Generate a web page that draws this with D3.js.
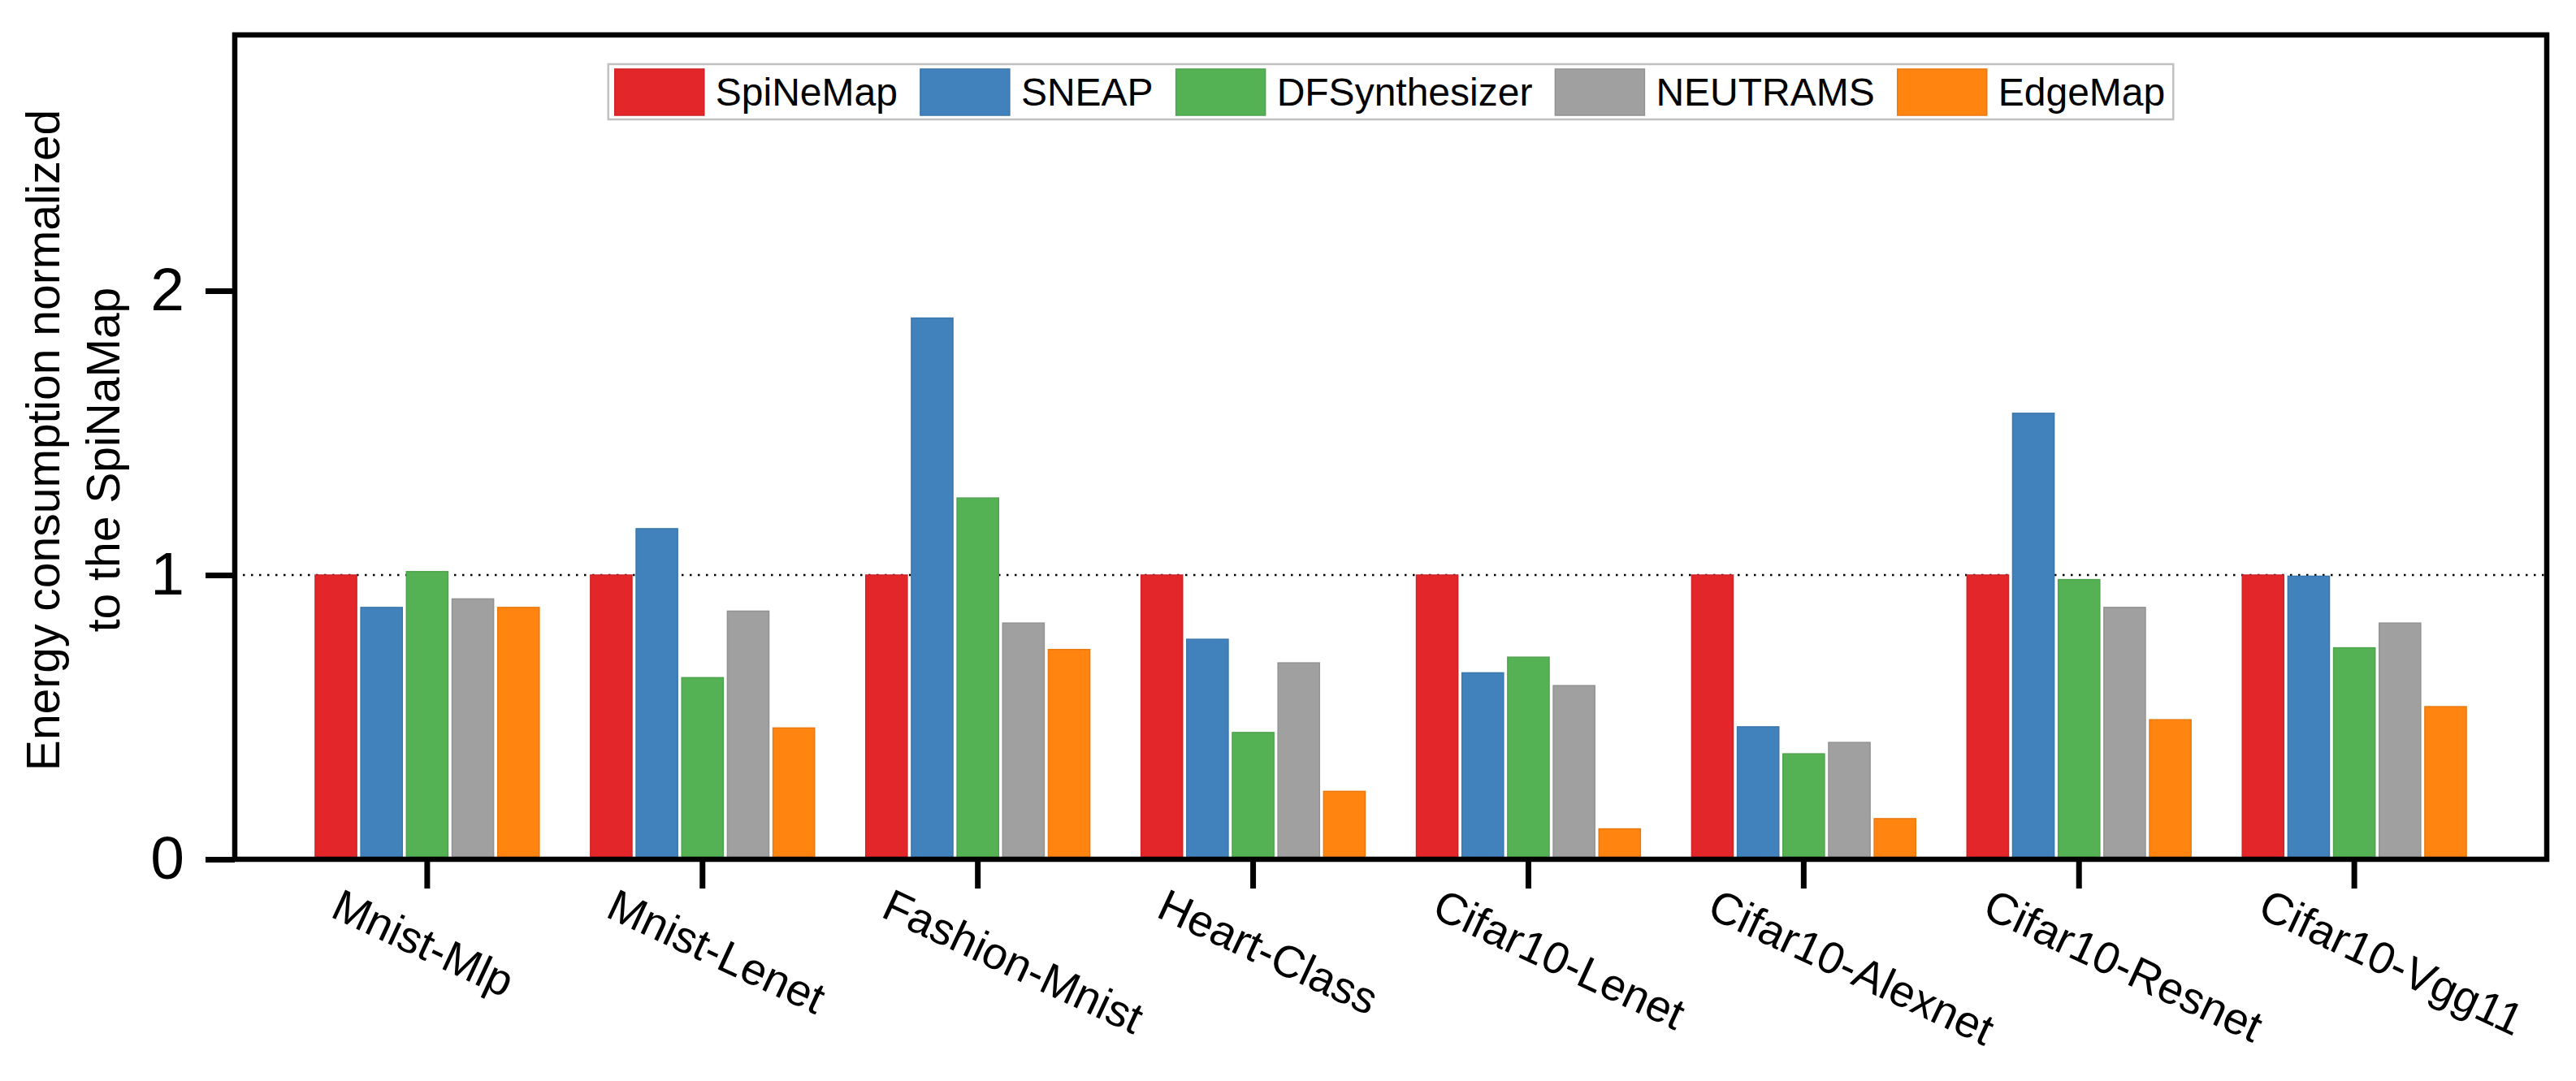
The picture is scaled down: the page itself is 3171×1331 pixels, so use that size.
<!DOCTYPE html>
<html lang="en">
<head>
  <meta charset="UTF-8">
  <title>Energy consumption normalized to SpiNeMap</title>
  <script src="https://d3js.org/d3.v7.min.js"></script>
  <style>
    body { margin: 0; background: #fff; }
    svg { display: block; font-family: 'Liberation Sans', Arial, sans-serif; }
  </style>
</head>
<body>
  <svg id="chart" width="3171" height="1331"></svg>

  <script>
    const apps = ["Mnist-Mlp", "Mnist-Lenet", "Fashion-Mnist", "Heart-Class", "Cifar10-Lenet", "Cifar10-Alexnet", "Cifar10-Resnet", "Cifar10-Vgg11"];
    const methods = ["SpiNeMap", "SNEAP", "DFSynthesizer", "NEUTRAMS", "EdgeMap"];
    const colors = ["#e3262a", "#4182bc", "#55b254", "#a0a0a0", "#ff8410"];

    // one array per method, in the order of apps
    const spinemap     = [1.00, 1.00, 1.00, 1.00, 1.00, 1.00, 1.00, 1.00];
    const sneap        = [0.886, 1.163, 1.904, 0.774, 0.656, 0.466, 1.569, 0.996];
    const dfsynth      = [1.012, 0.639, 1.271, 0.446, 0.711, 0.371, 0.984, 0.744];
    const neutrams     = [0.916, 0.873, 0.831, 0.691, 0.611, 0.411, 0.886, 0.831];
    const edgemap      = [0.886, 0.462, 0.738, 0.239, 0.107, 0.143, 0.491, 0.537];
    const series = [spinemap, sneap, dfsynth, neutrams, edgemap];

    const yTicks = [0, 1, 2];
    const yMax = 2.9;

    const svg = d3.select("#chart");
    const mLeft = 289, mRight = 3135, mTop = 43, mBottom = 1058;

    const x0 = d3.scaleBand().domain(apps).range([mLeft, mRight])
        .paddingInner(0.186).paddingOuter(0.292);
    const x1 = d3.scaleBand().domain(methods).range([0, x0.bandwidth()])
        .paddingInner(0.09);
    const y = d3.scaleLinear().domain([0, yMax]).range([mBottom, mTop]);

    svg.append("rect").attr("width", 3171).attr("height", 1331).attr("fill", "#fff");

    // reference line at 1
    svg.append("line")
        .attr("x1", mLeft).attr("x2", mRight)
        .attr("y1", y(1)).attr("y2", y(1))
        .attr("stroke", "#000").attr("stroke-width", 2.5)
        .attr("stroke-dasharray", "2.5 7.5");

    // bars
    const groups = svg.append("g").selectAll("g")
        .data(apps).enter().append("g")
        .attr("transform", d => `translate(${x0(d)},0)`);

    groups.selectAll("rect")
        .data((d, i) => methods.map((m, j) => ({ m, j, v: series[j][i] })))
        .enter().append("rect")
        .attr("x", d => x1(d.m))
        .attr("width", x1.bandwidth())
        .attr("y", d => y(d.v))
        .attr("height", d => y(0) - y(d.v))
        .attr("fill", d => colors[d.j])
        .attr("stroke", d => d3.color(colors[d.j]).darker(0.25))
        .attr("stroke-width", 1.5);

    // frame
    svg.append("rect")
        .attr("x", mLeft).attr("y", mTop)
        .attr("width", mRight - mLeft).attr("height", mBottom - mTop)
        .attr("fill", "none").attr("stroke", "#000").attr("stroke-width", 6.5);

    // y axis
    const yAxis = svg.append("g").attr("transform", `translate(${mLeft},0)`)
        .call(d3.axisLeft(y).tickValues(yTicks).tickFormat(d3.format("d")).tickSize(36).tickPadding(0));
    yAxis.select(".domain").remove();
    yAxis.selectAll(".tick line").attr("stroke", "#000").attr("stroke-width", 7);
    yAxis.selectAll(".tick text")
        .attr("x", -62).attr("dy", null).attr("y", 0)
        .attr("dominant-baseline", "central")
        .attr("transform", "translate(0,-3)")
        .style("font-size", "75px").attr("fill", "#000").attr("font-family", null);

    // x axis
    const xAxis = svg.append("g").attr("transform", `translate(0,${mBottom})`)
        .call(d3.axisBottom(x0).tickSize(36).tickSizeOuter(0));
    xAxis.select(".domain").remove();
    xAxis.selectAll(".tick line").attr("stroke", "#000").attr("stroke-width", 7);
    xAxis.selectAll(".tick text")
        .attr("x", 0).attr("y", 0).attr("dy", null)
        .attr("text-anchor", "start")
        .attr("transform", "translate(-121,70) rotate(25)")
        .style("font-size", "55px").attr("fill", "#000").attr("font-family", null);

    // y label
    const yl = svg.append("g").attr("fill", "#000").style("font-size", "57px");
    yl.append("text")
        .attr("transform", "translate(73,542) rotate(-90)")
        .attr("text-anchor", "middle")
        .text("Energy consumption normalized");
    yl.append("text")
        .attr("transform", "translate(147,566) rotate(-90)")
        .attr("text-anchor", "middle")
        .text("to the SpiNaMap");

    // legend
    const legend = svg.append("g");
    const box = legend.append("rect")
        .attr("fill", "#fff").attr("stroke", "#c0c0c0").attr("stroke-width", 2.5);
    let cx = 0;
    methods.forEach((m, i) => {
      legend.append("rect")
          .attr("x", cx).attr("y", 0).attr("width", 110).attr("height", 57)
          .attr("fill", colors[i])
          .attr("stroke", d3.color(colors[i]).darker(0.25)).attr("stroke-width", 1.5);
      const t = legend.append("text")
          .attr("x", cx + 124).attr("y", 45)
          .style("font-size", "48px").attr("fill", "#000")
          .text(m);
      cx += 124 + t.node().getComputedTextLength() + (i < methods.length - 1 ? 28 : 0);
    });
    box.attr("x", -8).attr("y", -6).attr("width", cx + 18).attr("height", 68);
    const lx = (mLeft + mRight) / 2 - (cx + 2) / 2;
    legend.attr("transform", `translate(${lx},85)`);
  </script>
</body>
</html>
